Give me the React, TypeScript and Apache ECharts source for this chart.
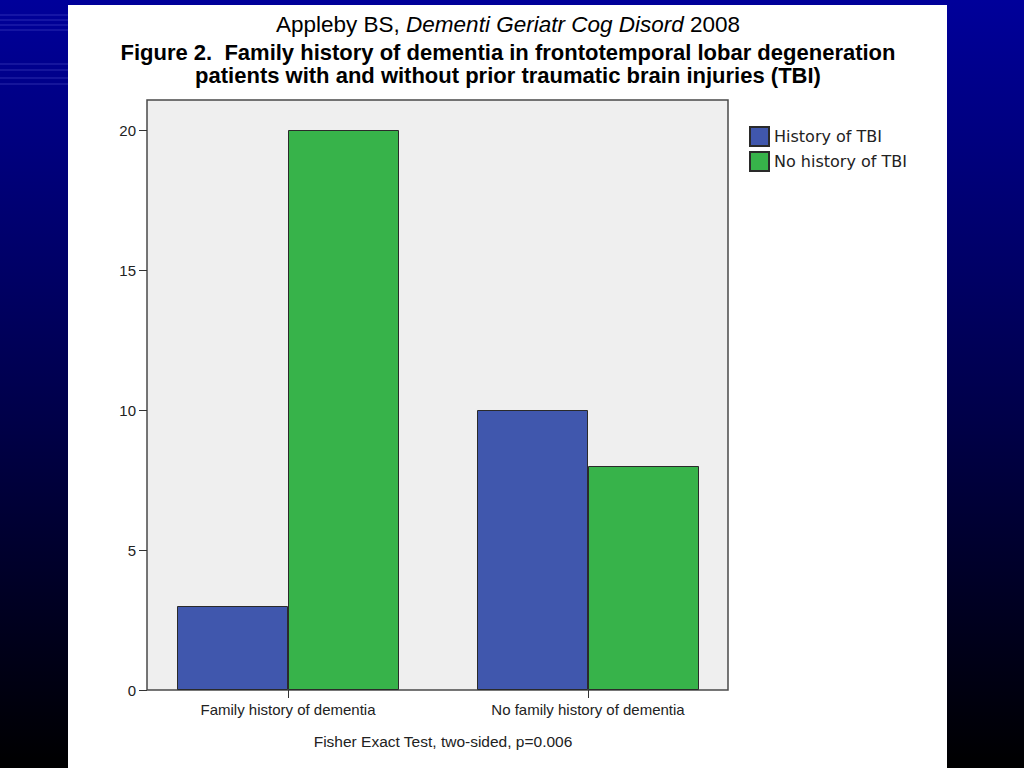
import React, { useEffect, useRef } from "react";
import * as echarts from "echarts";

const categories = ["Family history of dementia", "No family history of dementia"];
const seriesNames = ["History of TBI", "No history of TBI"];
const historyTBI = [3, 10];
const noHistoryTBI = [20, 8];
const yTicks = [0, 5, 10, 15, 20];

export default function App() {
  const ref = useRef<HTMLDivElement>(null);
  useEffect(() => {
    document.body.style.margin = "0";
    const chart = echarts.init(ref.current!, null, { renderer: "svg" });
    const stripes: any[] = [];
    [15, 20, 25, 30, 64, 70, 78, 84].forEach((y) => {
      stripes.push({ type: "line", shape: { x1: 0, y1: y, x2: 68, y2: y }, style: { stroke: "rgba(120,120,230,0.35)", lineWidth: 1 }, z: -5 });
    });
    const titleStyle = {
      fontFamily: "Liberation Sans, Arial",
      fontSize: 22,
      fontWeight: "bold",
      align: "center",
      verticalAlign: "middle",
      fill: "#000",
    };
    chart.setOption({
      animation: false,
      backgroundColor: new echarts.graphic.LinearGradient(0, 0, 0, 1, [
        { offset: 0, color: "#00009a" },
        { offset: 0.5, color: "#000050" },
        { offset: 1, color: "#000000" },
      ]),
      graphic: [
        ...stripes,
        { type: "rect", shape: { x: 68, y: 5, width: 879, height: 763 }, style: { fill: "#ffffff" }, z: -4 },
        { type: "rect", shape: { x: 147, y: 100, width: 581, height: 590 }, style: { fill: "#efefef", stroke: "#4a4a4a", lineWidth: 1.5 }, z: -3 },
        {
          type: "text",
          x: 508,
          y: 24,
          style: {
            text: "{n|Appleby BS, }{i|Dementi Geriatr Cog Disord}{n| 2008}",
            align: "center",
            verticalAlign: "middle",
            rich: {
              n: { fontFamily: "Liberation Sans, Arial", fontSize: 22.5, fill: "#000" },
              i: { fontFamily: "Liberation Sans, Arial", fontSize: 22.5, fontStyle: "italic", fill: "#000" },
            },
          },
        },
        {
          type: "text",
          x: 508,
          y: 52,
          style: { ...titleStyle, text: "Figure 2.  Family history of dementia in frontotemporal lobar degeneration" },
        },
        {
          type: "text",
          x: 508,
          y: 75,
          style: { ...titleStyle, text: "patients with and without prior traumatic brain injuries (TBI)" },
        },
        {
          type: "text",
          x: 443,
          y: 741,
          style: { text: "Fisher Exact Test, two-sided, p=0.006", fontFamily: "Liberation Sans, Arial", fontSize: 15.5, fill: "#222", align: "center", verticalAlign: "middle" },
        },
      ],
      legend: {
        left: 749,
        top: 126,
        padding: 0,
        orient: "vertical",
        itemWidth: 19,
        itemHeight: 19,
        itemGap: 4,
        icon: "rect",
        data: seriesNames,
        textStyle: { fontFamily: "DejaVu Sans", fontSize: 16, color: "#222" },
      },
      grid: { left: 138, right: 286, top: 130, bottom: 78 },
      xAxis: {
        type: "category",
        data: categories,
        axisLine: { show: false },
        axisTick: { show: true, alignWithLabel: true, length: 8, lineStyle: { color: "#333" } },
        axisLabel: { fontFamily: "Liberation Sans, Arial", fontSize: 15, color: "#222", margin: 12 },
        z: 5,
      },
      yAxis: {
        type: "value",
        min: 0,
        max: 20,
        interval: 5,
        offset: -9,
        axisLine: { show: false },
        axisTick: { show: true, length: 8, lineStyle: { color: "#333" } },
        axisLabel: {
          fontFamily: "Liberation Sans, Arial",
          fontSize: 15,
          color: "#222",
          margin: 11,
          formatter: (v: number) => (yTicks.includes(v) ? String(v) : ""),
        },
        splitLine: { show: false },
      },
      series: [
        {
          name: seriesNames[0],
          type: "bar",
          data: historyTBI,
          barWidth: 111,
          barGap: "0%",
          itemStyle: { color: "#4057ad", borderColor: "#2a2a2a", borderWidth: 1 },
        },
        {
          name: seriesNames[1],
          type: "bar",
          data: noHistoryTBI,
          barWidth: 111,
          barGap: "0%",
          itemStyle: { color: "#37b34a", borderColor: "#2a2a2a", borderWidth: 1 },
        },
      ],
    });
    return () => chart.dispose();
  }, []);
  return <div ref={ref} style={{ position: "absolute", left: 0, top: 0, width: 1024, height: 768 }} />;
}
